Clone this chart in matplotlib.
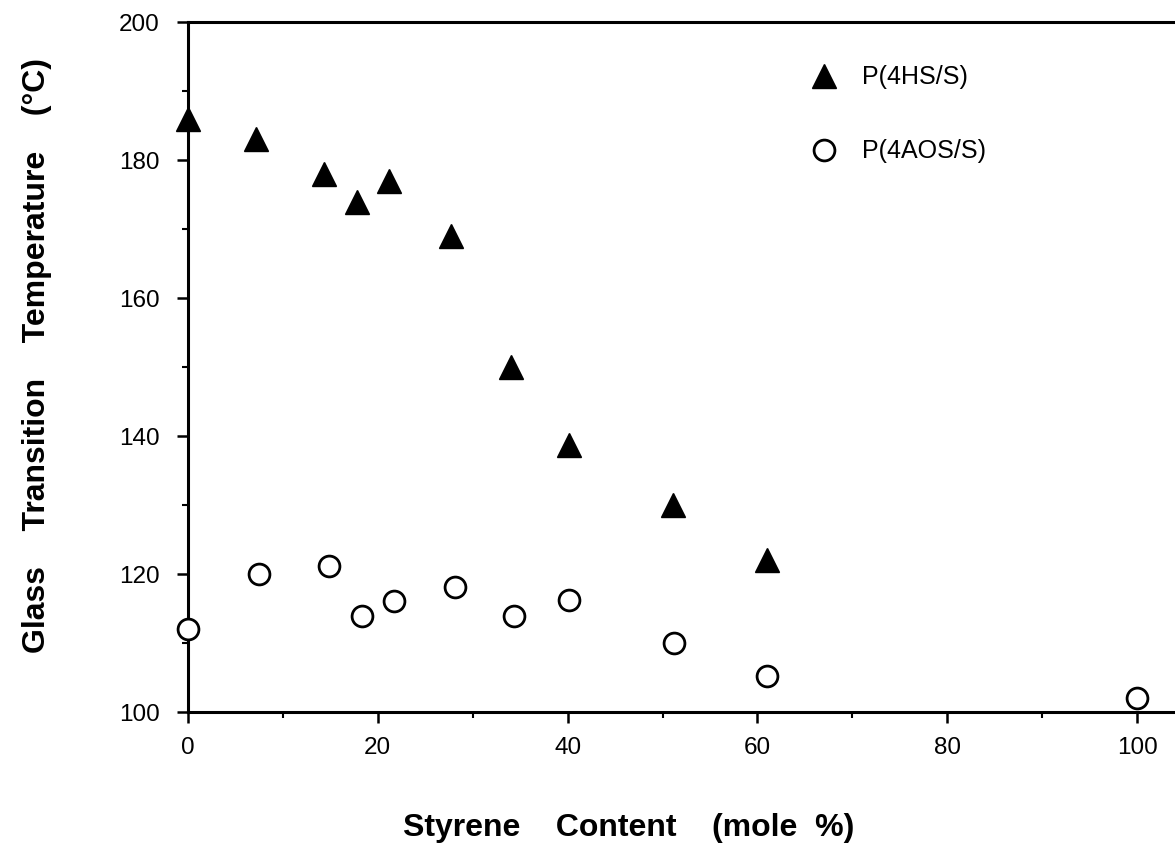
import matplotlib.pyplot as plt
from matplotlib.ticker import MultipleLocator

# P(4HS/S) series
hs_styrene = [0, 7.2, 14.3, 17.8, 21.2, 27.7, 34.0, 40.1, 51.1, 61.0]
hs_tg = [186, 183, 178, 174, 177, 169, 150, 138.8, 130, 122]

# P(4AOS/S) series
aos_styrene = [0, 7.5, 14.9, 18.3, 21.7, 28.1, 34.4, 40.1, 51.2, 61.0, 100]
aos_tg = [112, 120, 121.2, 114, 116.1, 118.1, 114, 116.2, 110.1, 105.3, 102]

x_ticks = [0, 20, 40, 60, 80, 100]
y_ticks = [100, 120, 140, 160, 180, 200]

plt.rcParams["font.family"] = ["Liberation Sans", "DejaVu Sans"]

fig = plt.figure(figsize=(11.75, 8.51), dpi=100)
ax = fig.add_axes([0.16, 0.163, 0.84, 0.811])

ax.plot(hs_styrene, hs_tg, "^", color="black", markersize=17,
        linestyle="none", label="P(4HS/S)", clip_on=False, zorder=3)
ax.plot(aos_styrene, aos_tg, "o", markerfacecolor="white", markeredgecolor="black",
        markersize=15, markeredgewidth=2.0, linestyle="none",
        label="P(4AOS/S)", clip_on=False, zorder=3)

ax.set_xlim(0, 104)
ax.set_ylim(100, 200)
ax.set_xticks(x_ticks)
ax.set_yticks(y_ticks)
ax.xaxis.set_minor_locator(MultipleLocator(10))
ax.yaxis.set_minor_locator(MultipleLocator(10))

for side in ["left", "bottom", "top"]:
    ax.spines[side].set_linewidth(2.2)
ax.spines["right"].set_visible(False)

ax.tick_params(which="major", direction="out", length=8, width=1.8,
               labelsize=17.5, top=False, right=False)
ax.tick_params(which="minor", direction="out", length=4, width=1.5,
               top=False, right=False)
ax.tick_params(axis="x", which="major", pad=10)
ax.tick_params(axis="y", which="major", pad=12.5)

ax.set_xlabel("Styrene    Content    (mole  %)", fontsize=23, fontweight="bold")
ax.xaxis.set_label_coords(0.446, -0.146)
ax.set_ylabel("Glass    Transition    Temperature    (°C)", fontsize=23,
              fontweight="bold")
ax.yaxis.set_label_coords(-0.138, 0.517)

ax.legend(loc="upper left", bbox_to_anchor=(0.609, 0.952), frameon=False,
          fontsize=18, labelspacing=2.0, handletextpad=0.52, borderaxespad=0)

fig.savefig("out.png", dpi=100)
